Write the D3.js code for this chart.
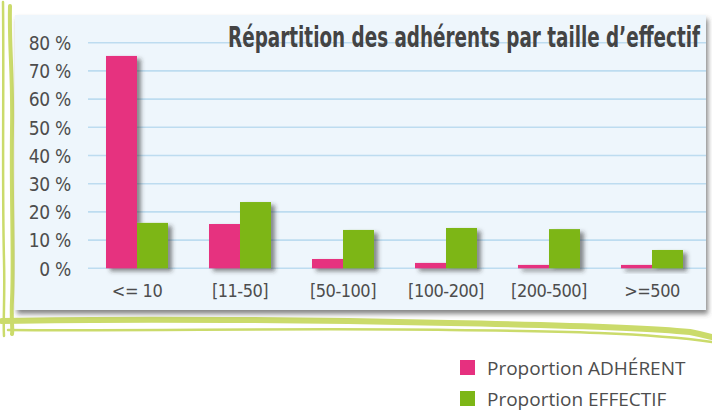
<!DOCTYPE html>
<html>
<head>
<meta charset="utf-8">
<script src="https://cdn.jsdelivr.net/npm/d3@7"></script>
<style>
  html, body { margin: 0; padding: 0; background: #ffffff; }
  svg { display: block; }
</style>
</head>
<body>
<svg id="chart"></svg>
<script>
// data
const categories = ['<= 10', '[11-50]', '[50-100]', '[100-200]', '[200-500]', '>=500'];
const seriesNames = ['Proportion ADHÉRENT', 'Proportion EFFECTIF'];
const adherent = [75.3, 15.7, 3.3, 1.9, 1.2, 1.2];
const effectif = [16.1, 23.5, 13.6, 14.3, 13.9, 6.5];
const yTicks = [0, 10, 20, 30, 40, 50, 60, 70, 80];
const title = 'Répartition des adhérents par taille d\u2019effectif';

const width = 712, height = 412;
const pink = '#e6307f', green = '#7db616';
const textCol = '#4d4d4d';
const narrow = '"Liberation Sans Narrow", "DejaVu Sans Condensed", sans-serif';

const svg = d3.select('#chart')
  .attr('width', width)
  .attr('height', height);

const defs = svg.append('defs');
defs.append('filter').attr('id', 'barShadow')
  .attr('x', '-20%').attr('y', '-20%').attr('width', '150%').attr('height', '150%')
  .append('feDropShadow')
  .attr('dx', 4).attr('dy', 3).attr('stdDeviation', 2)
  .attr('flood-color', '#333').attr('flood-opacity', 0.55);
defs.append('filter').attr('id', 'panelShadow')
  .attr('x', '-5%').attr('y', '-5%').attr('width', '110%').attr('height', '115%')
  .append('feDropShadow')
  .attr('dx', 2).attr('dy', 4).attr('stdDeviation', 2.5)
  .attr('flood-color', '#444').attr('flood-opacity', 0.65);

// hand drawn green frame
const frame = svg.append('g')
  .attr('fill', 'none')
  .attr('stroke', '#cbdb6b')
  .attr('stroke-linecap', 'round');
frame.append('path')
  .attr('d', 'M3,2 C4,90 2,180 4,260 C5,300 3,320 4,336')
  .attr('stroke-width', 2.5);
frame.append('path')
  .attr('d', 'M10,6 C9,50 13,70 12,130 C11,200 14,260 12,300 C11,320 13,330 12,334')
  .attr('stroke-width', 4);
frame.append('path')
  .attr('d', 'M2,321 C150,318 300,320 450,323 C560,325 640,327 690,332 C700,334 708,336 712,337')
  .attr('stroke-width', 6);
frame.append('path')
  .attr('d', 'M8,330 C150,331 300,328 450,330 C560,331 650,333 712,342')
  .attr('stroke-width', 2.5);

// panel
svg.append('rect')
  .attr('x', 15).attr('y', 15)
  .attr('width', 691).attr('height', 295)
  .attr('fill', '#eef6fc')
  .attr('filter', 'url(#panelShadow)');

// scales
const y = d3.scaleLinear().domain([0, 80]).range([268.3, 42.7]);
const x0 = d3.scaleBand().domain(categories).range([106, 683]).paddingInner(0.398).paddingOuter(0);
const x1 = d3.scaleBand().domain(seriesNames).range([0, x0.bandwidth()]);
const color = d3.scaleOrdinal().domain(seriesNames).range([pink, green]);

// grid
svg.append('g')
  .selectAll('line')
  .data(yTicks)
  .join('line')
  .attr('x1', 88).attr('x2', 706)
  .attr('y1', d => y(d)).attr('y2', d => y(d))
  .attr('stroke', '#bddcf0')
  .attr('stroke-width', 1.6);

// y axis labels
const yAxis = svg.append('g')
  .attr('transform', 'translate(71,0)')
  .call(d3.axisLeft(y).tickValues(yTicks).tickSize(0).tickPadding(0).tickFormat(d => d + ' %'));
yAxis.select('.domain').remove();
yAxis.selectAll('text')
  .attr('dy', '0.36em')
  .attr('fill', textCol)
  .style('font-family', narrow)
  .style('font-size', '19px')
  .style('letter-spacing', '-0.3px');

// title, squeezed horizontally to the width it has in the picture
const titleG = svg.append('g');
const titleText = titleG.append('text')
  .attr('x', 0).attr('y', 0)
  .attr('text-anchor', 'end')
  .attr('fill', '#444')
  .style('font-family', '"DejaVu Sans Condensed", "Liberation Sans Narrow", sans-serif')
  .style('font-weight', 'bold')
  .style('font-size', '28px')
  .text(title);
const natural = titleText.node().getComputedTextLength();
titleG.attr('transform', `translate(700,47) scale(${Math.min(1, 472 / natural)},1)`);

// bars
const rows = categories.map((c, i) => ({ cat: c, values: [adherent[i], effectif[i]] }));
const groups = svg.append('g')
  .selectAll('g')
  .data(rows)
  .join('g')
  .attr('transform', d => `translate(${x0(d.cat)},0)`)
  .attr('filter', 'url(#barShadow)');
groups.selectAll('rect')
  .data(d => d.values.map((v, j) => ({ key: seriesNames[j], value: v })))
  .join('rect')
  .attr('x', d => x1(d.key))
  .attr('y', d => y(d.value))
  .attr('width', x1.bandwidth())
  .attr('height', d => y(0) - y(d.value))
  .attr('fill', d => color(d.key));

// x axis labels
const xAxis = svg.append('g')
  .attr('transform', 'translate(0,297)')
  .call(d3.axisBottom(x0).tickSize(0).tickPadding(0));
xAxis.select('.domain').remove();
xAxis.selectAll('text')
  .attr('dy', 0)
  .attr('fill', textCol)
  .style('font-family', narrow)
  .style('font-size', '18px')
  .style('letter-spacing', '-0.5px');

// legend
const legend = svg.append('g')
  .selectAll('g')
  .data(seriesNames)
  .join('g')
  .attr('transform', (d, i) => `translate(460,${360 + i * 31})`);
legend.append('rect')
  .attr('width', 15).attr('height', 15)
  .attr('fill', d => color(d));
legend.append('text')
  .attr('x', 27).attr('y', 15)
  .attr('fill', textCol)
  .style('font-family', '"Open Sans", "Noto Sans", sans-serif')
  .style('font-size', '19px')
  .text(d => d);
</script>
</body>
</html>
